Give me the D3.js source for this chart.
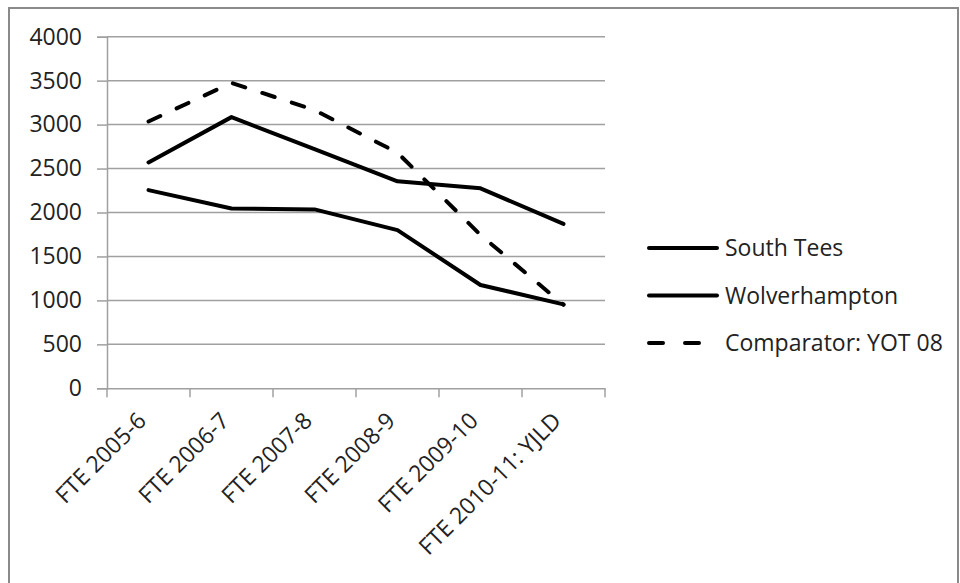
<!DOCTYPE html>
<html><head><meta charset="utf-8">
<script src="https://cdn.jsdelivr.net/npm/d3@7/dist/d3.min.js"></script>
<style>body{margin:0;background:#fff}svg{display:block}text{font-family:"Open Sans",sans-serif}</style>
</head><body><svg id="c" width="960" height="583"></svg>
<script>
const categories = ["FTE 2005-6","FTE 2006-7","FTE 2007-8","FTE 2008-9","FTE 2009-10","FTE 2010-11: YJLD"];
const southTees = [2570, 3085, 2720, 2355, 2275, 1870];
const wolverhampton = [2255, 2045, 2035, 1800, 1175, 955];
const comparator = [3035, 3475, 3165, 2680, 1745, 950];
const seriesNames = ["South Tees","Wolverhampton","Comparator: YOT 08"];
const yTicks = [0,500,1000,1500,2000,2500,3000,3500,4000];

const svg = d3.select("#c");
const L=107, R=605, T=36.7, B=388.3;
// outer border
svg.append("path").attr("d","M9,600 V8 H958 V600").attr("fill","none").attr("stroke","#8a8a8a").attr("stroke-width",2);

const x = d3.scaleBand().domain(categories).range([L,R]);
const y = d3.scaleLinear().domain([0,4000]).range([B,T]);

// gridlines
svg.append("g").selectAll("line").data(yTicks.filter(d=>d>0)).join("line")
  .attr("x1",L).attr("x2",R).attr("y1",d=>y(d)).attr("y2",d=>y(d))
  .attr("stroke","#a0a0a0").attr("stroke-width",1.5);

// y axis
const ya = svg.append("g").attr("transform",`translate(${L},0)`)
  .call(d3.axisLeft(y).tickValues(yTicks).tickSize(10).tickPadding(15).tickFormat(d3.format("d")));
ya.select(".domain").attr("stroke","#a0a0a0").attr("stroke-width",1.5);
ya.selectAll(".tick line").attr("stroke","#a0a0a0").attr("stroke-width",1.5);
ya.selectAll("text").attr("font-size",23).attr("fill","#222").style("font-family","Open Sans");

// x axis
const xa = svg.append("g").attr("transform",`translate(0,${B})`)
  .call(d3.axisBottom(x).tickSize(0).tickFormat(""));
xa.select(".domain").attr("stroke","#a0a0a0").attr("stroke-width",1.5);
const bounds = categories.map(c=>x(c)).concat([R]);
xa.append("g").selectAll("line").data(bounds).join("line")
  .attr("x1",d=>d).attr("x2",d=>d).attr("y1",0).attr("y2",9)
  .attr("stroke","#a0a0a0").attr("stroke-width",1.5);
xa.append("g").selectAll("text").data(categories).join("text")
  .attr("transform",d=>`translate(${x(d)+x.bandwidth()/2-1},${34}) rotate(-45)`)
  .attr("text-anchor","end").attr("font-size",23).attr("fill","#222").text(d=>d);

const line = d3.line().x((d,i)=>x(categories[i])+x.bandwidth()/2).y(d=>y(d));
const all = [southTees, wolverhampton, comparator];
const dashes = [null,null,"13,18"];
svg.append("g").selectAll("path").data(all).join("path")
  .attr("d",line).attr("fill","none").attr("stroke","#000").attr("stroke-width",4)
  .attr("stroke-linejoin","round").attr("stroke-linecap","round")
  .attr("stroke-dasharray",(d,i)=>dashes[i]);

// legend
const lg = svg.append("g");
seriesNames.forEach((n,i)=>{
  const yy = 248 + i*47.5;
  lg.append("line").attr("x1",649).attr("x2",717).attr("y1",yy).attr("y2",yy)
    .attr("stroke","#000").attr("stroke-width",4).attr("stroke-linecap","round")
    .attr("stroke-dasharray",i===2?"14,22":null);
  lg.append("text").attr("x",725).attr("y",yy).attr("dy","0.35em")
    .attr("font-size",23).attr("fill","#222").text(n);
});
</script></body></html>
